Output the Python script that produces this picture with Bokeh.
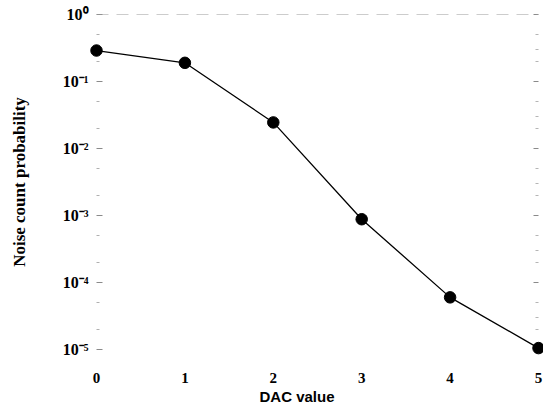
from bokeh.plotting import figure
from bokeh.models import (Range1d, LogAxis, FixedTicker, CustomJSTickFormatter,
                          Span, Title)
from bokeh.embed import file_html
from bokeh.resources import INLINE

# Noise count probability versus discriminator DAC setting
dac = [0, 1, 2, 3, 4, 5]
prob = [0.29, 0.19, 0.0245, 0.00088, 6.0e-5, 1.05e-5]

x_ticks = [0, 1, 2, 3, 4, 5]
y_ticks = [1e0, 1e-1, 1e-2, 1e-3, 1e-4, 1e-5]
y_tick_labels = ["10\u2070", "10\u207b\u00b9", "10\u207b\u00b2",
                 "10\u207b\u00b3", "10\u207b\u2074", "10\u207b\u2075"]

SERIF = "Liberation Serif"
SANS = "Liberation Sans"

p = figure(width=543, height=410, output_backend="svg", toolbar_location=None,
           x_range=Range1d(0, 5), y_range=Range1d(1e-5, 1.0), y_axis_type="log",
           min_border_left=96, min_border_right=5, min_border_top=14,
           min_border_bottom=61)
p.outline_line_color = None
p.grid.visible = False
p.background_fill_color = "white"
p.border_fill_color = "white"

# faded top frame line
p.add_layout(Span(location=1.0, dimension="width", line_color="#9a9a9a",
                  line_dash="12 8", line_width=1))

p.line(dac, prob, line_color="black", line_width=1.3)
dots = p.scatter(dac, prob, size=11.5, color="black")
dots.level = "overlay"

# x axis
xa = p.xaxis[0]
xa.ticker = FixedTicker(ticks=x_ticks)
xa.axis_line_color = None
xa.major_tick_line_color = None
xa.minor_tick_line_color = None
xa.major_label_standoff = 17
xa.major_label_text_font = SERIF
xa.major_label_text_font_style = "bold"
xa.major_label_text_font_size = "15px"
xa.major_label_text_color = "black"

# x axis title, sitting a little left of the frame centre
p.add_layout(Title(text="DAC value", align="left", offset=163,
                   text_font=SANS, text_font_style="bold", text_font_size="15px",
                   text_color="black", standoff=0), "below")

# y axis
ya = p.yaxis[0]
ya.ticker = FixedTicker(ticks=y_ticks, minor_ticks=[
    k * 10.0 ** e for e in range(-5, 0) for k in (2, 5)])
ya.formatter = CustomJSTickFormatter(
    args=dict(decades=y_ticks, names=y_tick_labels), code="""
    let best = 0, d = Infinity;
    for (let i = 0; i < decades.length; i++) {
        const e = Math.abs(Math.log10(tick) - Math.log10(decades[i]));
        if (e < d) { d = e; best = i; }
    }
    return names[best];
""")
ya.axis_line_color = None
ya.major_tick_in = 6
ya.major_tick_out = 0
ya.minor_tick_in = 3
ya.minor_tick_out = 0
ya.major_tick_line_color = "#8a8a8a"
ya.minor_tick_line_color = "#b0b0b0"
ya.major_label_standoff = 8
ya.major_label_text_font = SERIF
ya.major_label_text_font_style = "bold"
ya.major_label_text_font_size = "16px"
ya.major_label_text_color = "black"
ya.axis_label = "Noise count probability"
ya.axis_label_text_font = SERIF
ya.axis_label_text_font_style = "bold"
ya.axis_label_text_font_size = "17px"
ya.axis_label_text_color = "black"
ya.axis_label_standoff = 31

# faded right-hand ticks
ra = LogAxis(ticker=FixedTicker(ticks=y_ticks, minor_ticks=[
    k * 10.0 ** e for e in range(-5, 0) for k in (2, 3, 5)]))
ra.axis_line_color = None
ra.major_tick_in = 5
ra.major_tick_out = 0
ra.minor_tick_in = 3
ra.minor_tick_out = 0
ra.major_tick_line_color = "#8a8a8a"
ra.minor_tick_line_color = "#b5b5b5"
ra.major_label_text_color = None
ra.major_label_text_font_size = "1px"
ra.major_label_standoff = 0
p.add_layout(ra, "right")

open("out.html", "w").write(file_html(p, INLINE))
